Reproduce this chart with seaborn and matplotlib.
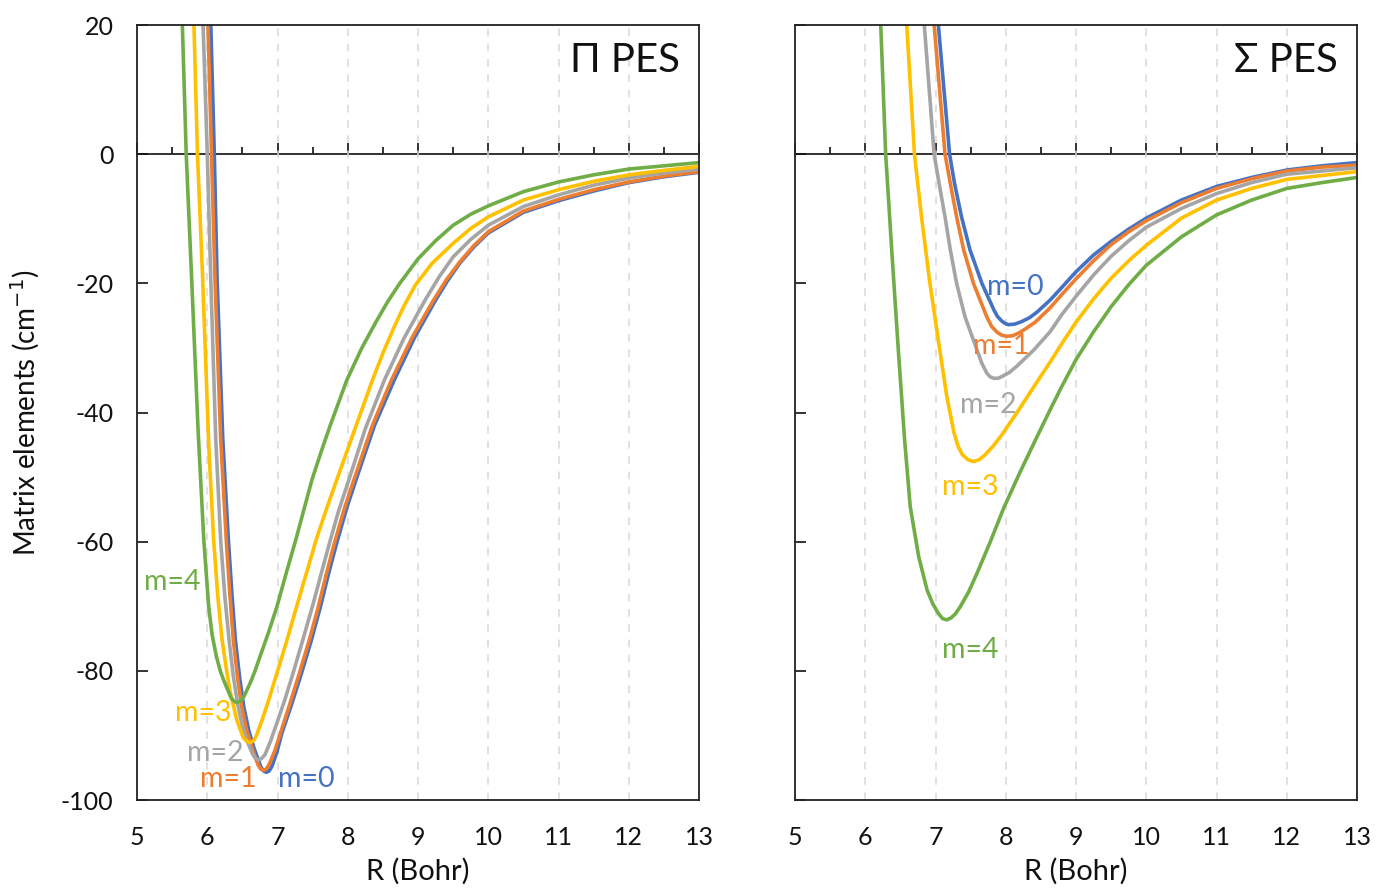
import pandas as pd
import seaborn as sns
import matplotlib.pyplot as plt
from matplotlib.ticker import MultipleLocator

# ---- Pi PES, values (R in Bohr, V in cm-1) ----
pi_r_m0 = [6.05, 6.10, 6.14, 6.22, 6.30, 6.35, 6.40, 6.46, 6.52, 6.59, 6.66, 6.76, 6.80, 6.84, 6.88,
           6.92, 6.99, 7.06, 7.20, 7.34, 7.48, 7.61, 7.73, 7.84, 7.99, 8.13, 8.38, 8.66, 8.95, 9.25,
           9.42, 9.6, 9.8, 10, 10.5, 11, 11.5, 12, 12.5, 13]
pi_v_m0 = [20, 0, -19.5, -44, -59.7, -68.0, -75.2, -81.0, -85.6, -89.2, -91.8, -94.8, -95.5, -95.7, -95.5,
           -94.8, -92.6, -89.7, -85.2, -80.4, -75.3, -70.1, -64.8, -60.3, -54.6, -50.0, -42.0, -35.0, -28.4, -22.6,
           -19.6, -16.8, -14.3, -12.2, -9.0, -7.2, -5.7, -4.4, -3.5, -2.8]

pi_r_m1 = [6.01, 6.06, 6.11, 6.19, 6.27, 6.32, 6.37, 6.43, 6.49, 6.56, 6.63, 6.72, 6.76, 6.80, 6.84,
           6.88, 6.96, 7.04, 7.17, 7.31, 7.45, 7.58, 7.69, 7.80, 7.95, 8.10, 8.35, 8.62, 8.92, 9.22,
           9.4, 9.6, 9.8, 10, 10.5, 11, 11.5, 12, 12.5, 13]
pi_v_m1 = [20, 0, -19.5, -44, -59.7, -68.0, -75.2, -81.0, -85.6, -89.2, -91.7, -94.5, -95.2, -95.4, -95.2,
           -94.5, -92.4, -89.7, -85.3, -80.4, -75.3, -70.1, -65.2, -60.6, -54.9, -50.0, -42.0, -35.0, -28.3, -22.6,
           -19.5, -16.6, -14.1, -12.0, -8.8, -7.0, -5.5, -4.3, -3.4, -2.7]

pi_r_m2 = [5.94, 6.00, 6.05, 6.12, 6.19, 6.25, 6.31, 6.37, 6.44, 6.50, 6.56, 6.65, 6.69, 6.73, 6.77,
           6.82, 6.90, 6.99, 7.10, 7.22, 7.36, 7.51, 7.63, 7.74, 7.87, 8.01, 8.25, 8.52, 8.80, 9.10,
           9.3, 9.5, 9.75, 10, 10.5, 11, 11.5, 12, 12.5, 13]
pi_v_m2 = [20, 0, -19.5, -44, -59.7, -68.5, -75.2, -80.8, -85.6, -88.6, -90.7, -93.0, -93.6, -93.8, -93.6,
           -93.0, -90.9, -88.1, -84.6, -80.4, -75.2, -69.5, -64.6, -60.2, -55.2, -50.6, -42.5, -35.0, -28.5, -22.6,
           -19.0, -15.9, -13.2, -11.0, -8.1, -6.3, -4.8, -3.7, -2.9, -2.3]

pi_r_m3 = [5.81, 5.86, 5.935, 6.02, 6.09, 6.15, 6.21, 6.27, 6.32, 6.42, 6.51, 6.56, 6.61, 6.66, 6.70,
           6.78, 6.88, 6.99, 7.13, 7.27, 7.41, 7.55, 7.71, 7.87, 8.10, 8.35, 8.50, 8.65, 8.80, 8.96,
           9.2, 9.5, 9.75, 10, 10.5, 11, 11.5, 12, 12.5, 13]
pi_v_m3 = [20, 0, -19.5, -45, -59.7, -68.5, -75.2, -79.6, -83.0, -87.6, -90.3, -90.9, -91.1, -90.8, -90.0,
           -87.6, -84.3, -80.4, -75.4, -70.1, -64.9, -59.7, -54.5, -49.6, -42.6, -35.0, -30.8, -27.0, -23.5, -20.3,
           -16.9, -13.8, -11.5, -9.7, -7.1, -5.5, -4.2, -3.2, -2.5, -1.9]

pi_r_m4 = [5.645, 5.70, 5.74, 5.78, 5.87, 5.95, 6.02, 6.07, 6.13, 6.19, 6.25, 6.34, 6.39, 6.43, 6.48,
           6.52, 6.61, 6.68, 6.75, 6.87, 6.99, 7.12, 7.26, 7.49, 7.62, 7.75, 7.985, 8.2, 8.40, 8.57,
           8.74, 9.0, 9.25, 9.5, 9.75, 10, 10.5, 11, 11.5, 12, 12.5, 13]
pi_v_m4 = [20, 0, -10, -20, -43, -59.7, -70.1, -74.5, -77.8, -80.2, -81.9, -84.2, -84.8, -84.9, -84.6,
           -84.0, -81.9, -80.0, -77.8, -74.1, -70.1, -65.0, -59.7, -50.4, -46.1, -42.0, -35.0, -30.0, -26.0, -22.8,
           -20.0, -16.2, -13.4, -11.0, -9.3, -8.0, -5.8, -4.3, -3.2, -2.3, -1.8, -1.3]

# ---- Sigma PES ----
sg_r_m0 = [7.04, 7.20, 7.27, 7.37, 7.49, 7.66, 7.83, 7.88, 7.94, 7.99, 8.04, 8.13, 8.23, 8.34, 8.45,
           8.63, 8.8, 9.0, 9.25, 9.5, 9.75, 10, 10.5, 11, 11.5, 12, 12.5, 13]
sg_v_m0 = [20, 0, -4.5, -9.7, -14.8, -20.0, -24.1, -25.1, -25.8, -26.2, -26.4, -26.3, -25.9, -25.3, -24.4,
           -22.6, -20.6, -18.2, -15.6, -13.5, -11.6, -9.9, -7.1, -5.0, -3.6, -2.45, -1.8, -1.3]

sg_r_m1 = [6.98, 7.135, 7.21, 7.30, 7.40, 7.54, 7.73, 7.80, 7.88, 7.94, 8.01, 8.10, 8.20, 8.30, 8.42,
           8.63, 8.8, 9.0, 9.25, 9.5, 9.75, 10, 10.5, 11, 11.5, 12, 12.5, 13]
sg_v_m1 = [20, 0, -4.5, -9.7, -14.8, -20.0, -25.2, -26.7, -27.6, -28.0, -28.2, -28.1, -27.6, -26.9, -26.0,
           -23.8, -21.7, -19.3, -16.5, -14.0, -12.0, -10.3, -7.5, -5.3, -3.8, -2.6, -2.0, -1.7]

sg_r_m2 = [6.84, 6.98, 7.05, 7.135, 7.21, 7.30, 7.42, 7.59, 7.66, 7.73, 7.78, 7.83, 7.89, 7.95, 8.05,
           8.16, 8.40, 8.63, 8.8, 9.0, 9.25, 9.5, 9.75, 10, 10.5, 11, 11.5, 12, 12.5, 13]
sg_v_m2 = [20, 0, -4.5, -9.7, -14.8, -20.0, -25.2, -30.3, -32.4, -33.9, -34.5, -34.7, -34.7, -34.4, -33.8,
           -32.8, -30.3, -27.5, -24.8, -22.0, -18.7, -15.8, -13.4, -11.3, -8.4, -6.1, -4.4, -3.1, -2.6, -2.1]

sg_r_m3 = [6.59, 6.70, 6.80, 6.92, 7.06, 7.16, 7.26, 7.32, 7.38, 7.46, 7.54, 7.62, 7.70, 7.82, 7.94,
           8.16, 8.40, 8.63, 8.8, 9.0, 9.25, 9.5, 9.75, 10, 10.5, 11, 11.5, 12, 12.5, 13]
sg_v_m3 = [20, 0, -9.7, -20.0, -30.3, -37.5, -43.0, -45.2, -46.5, -47.3, -47.6, -47.3, -46.6, -45.2, -43.5,
           -40.0, -36.0, -32.2, -29.3, -26.0, -22.4, -19.2, -16.5, -14.1, -9.9, -7.1, -5.3, -3.9, -3.3, -2.7]

sg_r_m4 = [6.22, 6.29, 6.38, 6.47, 6.56, 6.64, 6.76, 6.88, 6.96, 7.04, 7.10, 7.16, 7.22, 7.28, 7.35,
           7.47, 7.59, 7.78, 7.97, 8.2, 8.42, 8.63, 8.8, 9.0, 9.25, 9.5, 9.75, 10, 10.5, 11,
           11.5, 12, 12.5, 13]
sg_v_m4 = [20, 0, -15.5, -30.3, -44.3, -54.6, -62.3, -67.5, -69.6, -71.1, -71.9, -72.1, -71.8, -71.2, -70.1,
           -67.8, -64.9, -60.0, -54.8, -49.3, -44.3, -39.6, -35.9, -31.8, -27.5, -23.6, -20.2, -17.2, -12.8, -9.4,
           -7.1, -5.3, -4.4, -3.6]

labels = ["m=0", "m=1", "m=2", "m=3", "m=4"]
colors = ["#4472C4", "#ED7D31", "#A5A5A5", "#FFC000", "#70AD47"]

# where the m= labels sit (R, V)
pi_label_r = [7.41, 6.30, 6.12, 5.94, 5.50]
pi_label_v = [-96.7, -96.7, -92.7, -86.5, -66.2]
sg_label_r = [8.14, 7.93, 7.75, 7.49, 7.49]
sg_label_v = [-20.6, -29.7, -38.8, -51.5, -76.8]


def make_frame(pairs):
    parts = []
    for lab, (r, v) in zip(labels, pairs):
        parts.append(pd.DataFrame({"R": r, "V": v, "m": lab}))
    return pd.concat(parts, ignore_index=True)


pi_df = make_frame([(pi_r_m0, pi_v_m0), (pi_r_m1, pi_v_m1), (pi_r_m2, pi_v_m2),
                    (pi_r_m3, pi_v_m3), (pi_r_m4, pi_v_m4)])
sg_df = make_frame([(sg_r_m0, sg_v_m0), (sg_r_m1, sg_v_m1), (sg_r_m2, sg_v_m2),
                    (sg_r_m3, sg_v_m3), (sg_r_m4, sg_v_m4)])

sns.set_theme(style="white")
plt.rcParams["font.family"] = ["Lato", "DejaVu Sans"]
plt.rcParams["axes.unicode_minus"] = False

fig = plt.figure(figsize=(13.76, 8.94), dpi=100)
ax1 = fig.add_axes([0.0996, 0.1051, 0.4084, 0.8669])
ax2 = fig.add_axes([0.5778, 0.1051, 0.4084, 0.8669])

ymin, ymax = -100, 20
palette = dict(zip(labels, colors))

for ax, df, title, lr, lv in [(ax1, pi_df, "Π PES", pi_label_r, pi_label_v),
                              (ax2, sg_df, "Σ PES", sg_label_r, sg_label_v)]:
    # dashed vertical grid at the integer R values
    ax.xaxis.grid(True, color="#d9d9d9", linestyle=(0, (5, 5)), linewidth=1.1)
    ax.yaxis.grid(False)
    ax.set_axisbelow(True)

    sns.lineplot(data=df, x="R", y="V", hue="m", palette=palette, hue_order=labels,
                 estimator=None, legend=False, linewidth=2.6, ax=ax)

    ax.set_xlim(5, 13)
    ax.set_ylim(ymin, ymax)
    ax.set_xticks(range(5, 14))
    ax.set_yticks(range(-100, 21, 20))
    ax.tick_params(axis="x", length=0, pad=19, labelsize=18, colors="#111111")
    ax.tick_params(axis="y", direction="in", length=8, width=1.2, pad=17,
                   labelsize=18, colors="#111111", left=True)
    for sp in ax.spines.values():
        sp.set_color("#222222")
        sp.set_linewidth(1.3)

    # zero line carrying the x tick marks
    sec = ax.secondary_xaxis((0 - ymin) / (ymax - ymin))
    sec.set_xticks(range(5, 14))
    sec.xaxis.set_minor_locator(MultipleLocator(0.5))
    sec.tick_params(which="major", length=8, width=1.3, color="#222222", labeltop=False, labelbottom=False)
    sec.tick_params(which="minor", length=5, width=1.3, color="#222222")
    for sp in sec.spines.values():
        sp.set_color("#222222")
        sp.set_linewidth(1.3)

    for lab, c, x, y in zip(labels, colors, lr, lv):
        ax.text(x, y, lab, color=c, fontsize=20.5, ha="center", va="center")

    ax.text(0.966, 0.978, title, transform=ax.transAxes, ha="right", va="top",
            fontsize=29, color="#111111")

    ax.set_xlabel("R (Bohr)", fontsize=21, color="#111111")
    ax.xaxis.set_label_coords(0.5, -0.075)
    ax.xaxis.label.set_va("top")
    ax.set_ylabel("")

ax1.set_ylabel("Matrix elements (cm$^{-1}$)", fontsize=20, color="#111111")
ax1.yaxis.set_label_coords(-0.17, 0.5)
ax2.tick_params(axis="y", labelleft=False)

fig.savefig("out.png", dpi=100)
